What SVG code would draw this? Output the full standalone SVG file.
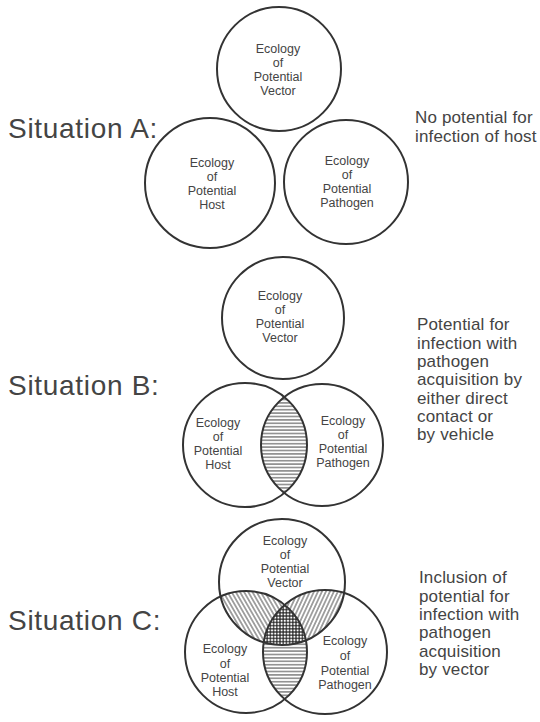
<svg xmlns="http://www.w3.org/2000/svg" width="540" height="722" viewBox="0 0 540 722">
<style>
.c{fill:none;stroke:#333;stroke-width:2}
.t{font-family:"Liberation Sans",Arial,sans-serif;font-size:12.5px;fill:#444;text-anchor:middle}
.lab{font-family:"Liberation Sans",Arial,sans-serif;font-size:28px;fill:#444;letter-spacing:0.7px}
.d{font-family:"Liberation Sans",Arial,sans-serif;font-size:17px;fill:#444;letter-spacing:0.15px}
</style>
<defs>
<pattern id="hH" width="6" height="3.4" patternUnits="userSpaceOnUse">
<line x1="0" y1="1.7" x2="6" y2="1.7" stroke="#333" stroke-width="0.9"/>
</pattern>
<pattern id="hB" width="3.6" height="6" patternUnits="userSpaceOnUse" patternTransform="rotate(-30)">
<line x1="1.8" y1="0" x2="1.8" y2="6" stroke="#333" stroke-width="0.9"/>
</pattern>
<pattern id="hF" width="3.6" height="6" patternUnits="userSpaceOnUse" patternTransform="rotate(25)">
<line x1="1.8" y1="0" x2="1.8" y2="6" stroke="#333" stroke-width="0.9"/>
</pattern>
<pattern id="hX" width="3.2" height="3.2" patternUnits="userSpaceOnUse">
<rect width="3.2" height="3.2" fill="#fff"/>
<line x1="0" y1="1.6" x2="3.2" y2="1.6" stroke="#1a1a1a" stroke-width="1.1"/>
<line x1="1.6" y1="0" x2="1.6" y2="3.2" stroke="#1a1a1a" stroke-width="1.1"/>
</pattern>
<clipPath id="cBHost"><circle cx="245" cy="445" r="62"/></clipPath>
<clipPath id="cCHost"><circle cx="246" cy="652" r="61"/></clipPath>
<clipPath id="cCPath"><circle cx="325" cy="652" r="62"/></clipPath>
</defs>
<rect width="540" height="722" fill="#fff"/>

<g id="labels">
<text class="lab" x="8" y="138">Situation A:</text>
<text class="lab" x="8" y="395">Situation B:</text>
<text class="lab" x="8" y="630">Situation C:</text>
</g>

<g id="descriptions">
<text class="d" x="415" y="123">No potential for</text>
<text class="d" x="415" y="142">infection of host</text>
<text class="d" x="417" y="330">Potential for</text>
<text class="d" x="417" y="348.5">infection with</text>
<text class="d" x="417" y="367">pathogen</text>
<text class="d" x="417" y="385">acquisition by</text>
<text class="d" x="417" y="403.5">either direct</text>
<text class="d" x="417" y="422">contact or</text>
<text class="d" x="417" y="440">by vehicle</text>
<text class="d" x="419" y="583">Inclusion of</text>
<text class="d" x="419" y="601.5">potential for</text>
<text class="d" x="419" y="620">infection with</text>
<text class="d" x="419" y="638">pathogen</text>
<text class="d" x="419" y="656.5">acquisition</text>
<text class="d" x="419" y="675">by vector</text>
</g>

<g id="hatching">
<circle cx="322" cy="445" r="61" fill="url(#hH)" clip-path="url(#cBHost)"/>
<circle cx="325" cy="652" r="62" fill="url(#hH)" clip-path="url(#cCHost)"/>
<circle cx="282" cy="582" r="63" fill="url(#hB)" clip-path="url(#cCHost)"/>
<circle cx="282" cy="582" r="63" fill="url(#hF)" clip-path="url(#cCPath)"/>
<g clip-path="url(#cCHost)"><g clip-path="url(#cCPath)">
<circle cx="282" cy="582" r="63" fill="url(#hX)"/>
</g></g>
</g>

<g id="a-vector"><circle class="c" cx="279" cy="69" r="62"/>
<text class="t" x="278" y="53">Ecology</text><text class="t" x="278" y="67">of</text><text class="t" x="278" y="81">Potential</text><text class="t" x="278" y="95">Vector</text></g>
<g id="a-host"><circle class="c" cx="210" cy="183" r="65"/>
<text class="t" x="212" y="167">Ecology</text><text class="t" x="212" y="181">of</text><text class="t" x="212" y="195">Potential</text><text class="t" x="212" y="209">Host</text></g>
<g id="a-pathogen"><circle class="c" cx="346" cy="182" r="62"/>
<text class="t" x="347" y="165">Ecology</text><text class="t" x="347" y="179">of</text><text class="t" x="347" y="193">Potential</text><text class="t" x="347" y="207">Pathogen</text></g>

<g id="b-vector"><circle class="c" cx="283" cy="318" r="61"/>
<text class="t" x="280" y="300">Ecology</text><text class="t" x="280" y="314">of</text><text class="t" x="280" y="328">Potential</text><text class="t" x="280" y="342">Vector</text></g>
<g id="b-host"><circle class="c" cx="245" cy="445" r="62"/>
<text class="t" x="218" y="427">Ecology</text><text class="t" x="218" y="441">of</text><text class="t" x="218" y="455">Potential</text><text class="t" x="218" y="469">Host</text></g>
<g id="b-pathogen"><circle class="c" cx="322" cy="445" r="61"/>
<text class="t" x="343" y="425">Ecology</text><text class="t" x="343" y="439">of</text><text class="t" x="343" y="453">Potential</text><text class="t" x="343" y="467">Pathogen</text></g>

<g id="c-vector"><circle class="c" cx="282" cy="582" r="63"/>
<text class="t" x="285" y="545">Ecology</text><text class="t" x="285" y="559">of</text><text class="t" x="285" y="573">Potential</text><text class="t" x="285" y="587">Vector</text></g>
<g id="c-host"><circle class="c" cx="246" cy="652" r="61"/>
<text class="t" x="225" y="653">Ecology</text><text class="t" x="225" y="667.5">of</text><text class="t" x="225" y="682">Potential</text><text class="t" x="225" y="696">Host</text></g>
<g id="c-pathogen"><circle class="c" cx="325" cy="652" r="62"/>
<text class="t" x="345" y="645">Ecology</text><text class="t" x="345" y="660">of</text><text class="t" x="345" y="675">Potential</text><text class="t" x="345" y="689">Pathogen</text></g>
</svg>
